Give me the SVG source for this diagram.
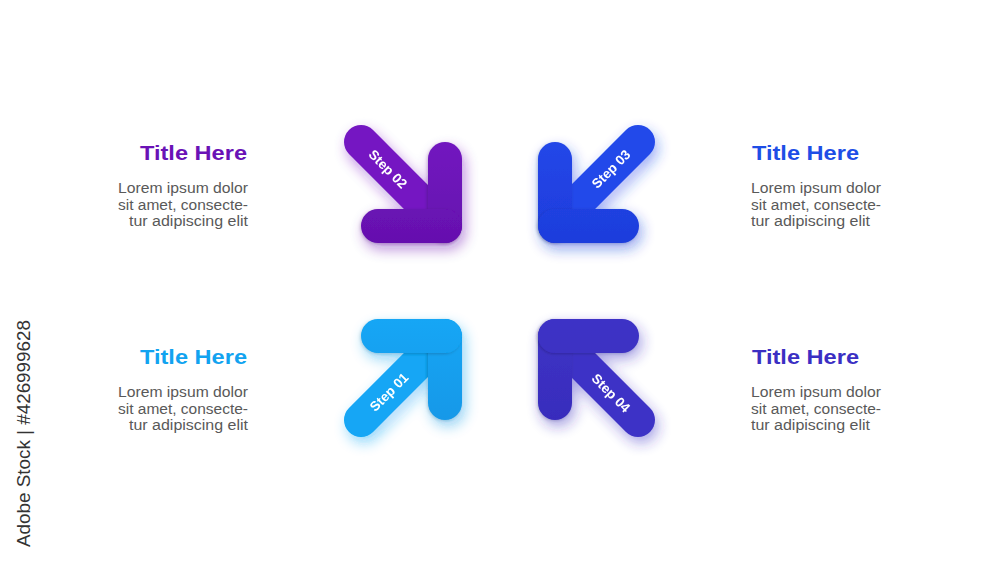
<svg xmlns="http://www.w3.org/2000/svg" width="1000" height="563" viewBox="0 0 1000 563">
<style>
.title{font-family:"Liberation Sans",Arial,sans-serif;font-weight:bold;font-size:21px}
.body{font-family:"Liberation Sans",Arial,sans-serif;font-size:14px;fill:#595959}
.step{font-family:"Liberation Sans",Arial,sans-serif;font-weight:bold;font-size:13.5px;fill:#ffffff;text-anchor:middle}
.wm{font-family:"Liberation Sans",Arial,sans-serif;font-size:19px;fill:#333333}
</style>
<defs>
<filter id="glow" x="-40%" y="-40%" width="180%" height="180%">
<feGaussianBlur in="SourceGraphic" stdDeviation="7" result="b"/>
<feOffset in="b" dx="3" dy="6" result="o"/>
<feComponentTransfer in="o" result="s"><feFuncA type="linear" slope="0.45"/></feComponentTransfer>
<feMerge><feMergeNode in="s"/><feMergeNode in="SourceGraphic"/></feMerge>
</filter>
<filter id="inner" x="-20%" y="-20%" width="140%" height="140%">
<feDropShadow dx="-1" dy="1" stdDeviation="1.5" flood-color="#000" flood-opacity="0.2"/>
</filter>
<linearGradient id="g2" gradientUnits="userSpaceOnUse" x1="0" y1="125" x2="0" y2="243"><stop offset="0" stop-color="#7419c2"/><stop offset="1" stop-color="#6510ae"/></linearGradient>
<linearGradient id="g3" gradientUnits="userSpaceOnUse" x1="0" y1="125" x2="0" y2="243"><stop offset="0" stop-color="#2348ea"/><stop offset="1" stop-color="#1e3ddc"/></linearGradient>
<linearGradient id="g1" gradientUnits="userSpaceOnUse" x1="0" y1="319" x2="0" y2="437"><stop offset="0" stop-color="#12a6f5"/><stop offset="1" stop-color="#1596e6"/></linearGradient>
<linearGradient id="g4" gradientUnits="userSpaceOnUse" x1="0" y1="319" x2="0" y2="437"><stop offset="0" stop-color="#3e33c6"/><stop offset="1" stop-color="#372bbb"/></linearGradient>
</defs>
<rect width="1000" height="563" fill="#ffffff"/>

<g id="connectors"></g>

<g id="step02" filter="url(#glow)">
<rect x="-17" y="-17" width="135" height="34" rx="17" transform="translate(361,142) rotate(45)" fill="url(#g2)"/>
<rect x="428" y="142" width="34" height="101" rx="17" fill="url(#g2)" filter="url(#inner)"/>
<rect x="361" y="209" width="101" height="34" rx="17" fill="url(#g2)" filter="url(#inner)"/>
<text class="step" transform="translate(388,169) rotate(45)" y="4.7">Step 02</text>
</g>

<g id="step03" filter="url(#glow)">
<rect x="-17" y="-17" width="135" height="34" rx="17" transform="translate(638,142) rotate(135)" fill="url(#g3)"/>
<rect x="538" y="142" width="34" height="101" rx="17" fill="url(#g3)" filter="url(#inner)"/>
<rect x="538" y="209" width="101" height="34" rx="17" fill="url(#g3)" filter="url(#inner)"/>
<text class="step" transform="translate(611,169) rotate(-45)" y="4.7">Step 03</text>
</g>

<g id="step01" filter="url(#glow)">
<rect x="-17" y="-17" width="135" height="34" rx="17" transform="translate(361,420) rotate(-45)" fill="url(#g1)"/>
<rect x="428" y="319" width="34" height="101" rx="17" fill="url(#g1)" filter="url(#inner)"/>
<rect x="361" y="319" width="101" height="34" rx="17" fill="url(#g1)" filter="url(#inner)"/>
<text class="step" transform="translate(389,392) rotate(-45)" y="4.7">Step 01</text>
</g>

<g id="step04" filter="url(#glow)">
<rect x="-17" y="-17" width="135" height="34" rx="17" transform="translate(638,420) rotate(-135)" fill="url(#g4)"/>
<rect x="538" y="319" width="34" height="101" rx="17" fill="url(#g4)" filter="url(#inner)"/>
<rect x="538" y="319" width="101" height="34" rx="17" fill="url(#g4)" filter="url(#inner)"/>
<text class="step" transform="translate(611,393) rotate(45)" y="4.7">Step 04</text>
</g>

<g id="text02" text-anchor="end">
<text class="title" x="247" y="160" fill="#6a12b6" textLength="107" lengthAdjust="spacingAndGlyphs">Title Here</text>
<text class="body" x="248" y="193" textLength="130" lengthAdjust="spacingAndGlyphs">Lorem ipsum dolor</text>
<text class="body" x="248" y="210" textLength="130" lengthAdjust="spacingAndGlyphs">sit amet, consecte-</text>
<text class="body" x="248" y="226" textLength="119" lengthAdjust="spacingAndGlyphs">tur adipiscing elit</text>
</g>

<g id="text03">
<text class="title" x="752" y="160" fill="#1e4ee6" textLength="107" lengthAdjust="spacingAndGlyphs">Title Here</text>
<text class="body" x="751" y="193" textLength="130" lengthAdjust="spacingAndGlyphs">Lorem ipsum dolor</text>
<text class="body" x="751" y="210" textLength="130" lengthAdjust="spacingAndGlyphs">sit amet, consecte-</text>
<text class="body" x="751" y="226" textLength="119" lengthAdjust="spacingAndGlyphs">tur adipiscing elit</text>
</g>

<g id="text01" text-anchor="end">
<text class="title" x="247" y="364" fill="#12a3f0" textLength="107" lengthAdjust="spacingAndGlyphs">Title Here</text>
<text class="body" x="248" y="397" textLength="130" lengthAdjust="spacingAndGlyphs">Lorem ipsum dolor</text>
<text class="body" x="248" y="414" textLength="130" lengthAdjust="spacingAndGlyphs">sit amet, consecte-</text>
<text class="body" x="248" y="430" textLength="119" lengthAdjust="spacingAndGlyphs">tur adipiscing elit</text>
</g>

<g id="text04">
<text class="title" x="752" y="364" fill="#3b2fc3" textLength="107" lengthAdjust="spacingAndGlyphs">Title Here</text>
<text class="body" x="751" y="397" textLength="130" lengthAdjust="spacingAndGlyphs">Lorem ipsum dolor</text>
<text class="body" x="751" y="414" textLength="130" lengthAdjust="spacingAndGlyphs">sit amet, consecte-</text>
<text class="body" x="751" y="430" textLength="119" lengthAdjust="spacingAndGlyphs">tur adipiscing elit</text>
</g>

<text class="wm" transform="translate(30,547) rotate(-90)" textLength="227" lengthAdjust="spacingAndGlyphs">Adobe Stock | #426999628</text>
</svg>
